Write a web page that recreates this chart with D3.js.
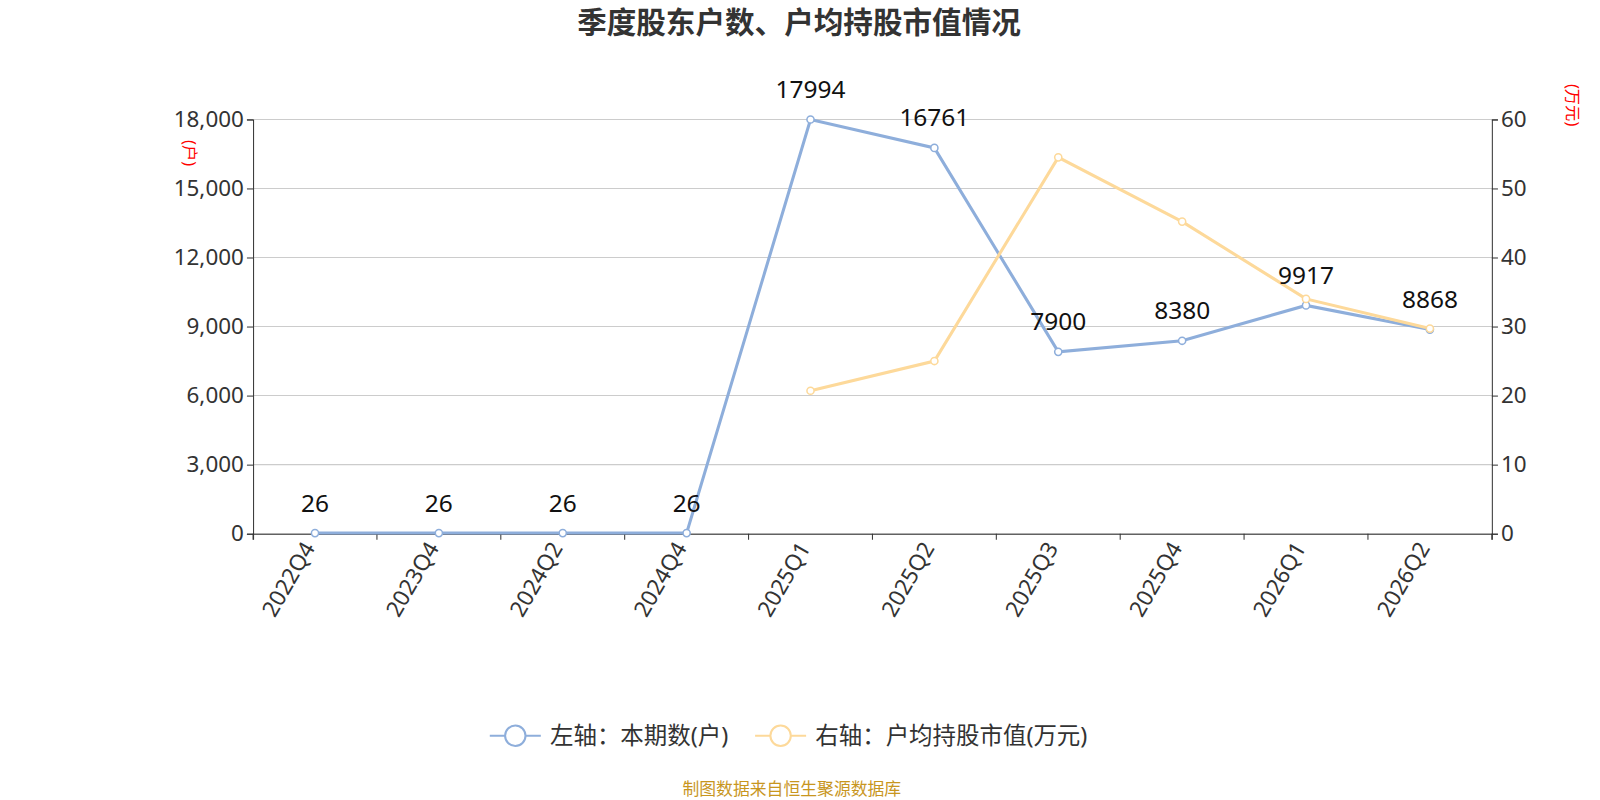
<!DOCTYPE html>
<html><head><meta charset="utf-8">
<script src="https://cdn.jsdelivr.net/npm/d3@7"></script>
<style>body{margin:0;background:#fff;font-family:"Noto Sans","Noto Sans CJK SC",sans-serif}</style>
</head><body><div id="chart"></div>
<script>
const quarters = ["2022Q4","2023Q4","2024Q2","2024Q4","2025Q1","2025Q2","2025Q3","2025Q4","2026Q1","2026Q2"];
const holders = [26, 26, 26, 26, 17994, 16761, 7900, 8380, 9917, 8868];
const avgValue = [null, null, null, null, 20.7, 25.0, 54.5, 45.2, 34.0, 29.7];
const leftTicks = [0, 3000, 6000, 9000, 12000, 15000, 18000];
const rightTicks = [0, 10, 20, 30, 40, 50, 60];

const width = 1600, height = 800;
const blue = "#8eaedb", yellow = "#fdd99a";
const root = d3.select("#chart").append("svg").attr("width", width).attr("height", height);
const svg = root.append("g").attr("transform", "scale(1.0204)");

const x = d3.scaleBand().domain(quarters).range([248, 1462]);
const yL = d3.scaleLinear().domain([0, 18000]).range([523, 117]);
const yR = d3.scaleLinear().domain([0, 60]).range([523, 117]);
const cx = d => x(d) + x.bandwidth() / 2;

// grid
svg.append("g").selectAll("line").data(leftTicks).join("line")
    .attr("x1", 248).attr("x2", 1462).attr("y1", d => yL(d)).attr("y2", d => yL(d))
    .attr("stroke", "#ccc");

const gL = svg.append("g").attr("transform", "translate(248,0)")
    .call(d3.axisLeft(yL).tickValues(leftTicks).tickFormat(d3.format(",")).tickSize(6));
const gR = svg.append("g").attr("transform", "translate(1462,0)")
    .call(d3.axisRight(yR).tickValues(rightTicks).tickSize(6));
const gX = svg.append("g").attr("transform", "translate(0,523)")
    .call(d3.axisBottom(x).tickSize(6).tickSizeOuter(6));
gX.selectAll(".tick line").attr("transform", `translate(${-x.bandwidth()/2},0)`);
gX.append("line").attr("x1", 1462).attr("x2", 1462).attr("y1", 0).attr("y2", 6).attr("stroke", "#333");
for (const g of [gL, gR, gX]) {
    g.selectAll("path,line").attr("stroke", "#333");
    g.selectAll("text").attr("fill", "#333").style("font-size", "22px").style("font-family", "Noto Sans, sans-serif");
}
gX.selectAll("text").attr("transform", "translate(-6,10) rotate(-60)").style("text-anchor", "end").attr("dy", "0.35em").attr("y", 0).attr("x", 0);

// unit labels
svg.append("text").attr("transform", "translate(180,150) rotate(90)").attr("text-anchor", "middle")
    .attr("fill", "red").style("font-size", "16px").text("(户)");
svg.append("text").attr("transform", "translate(1536,103) rotate(90)").attr("text-anchor", "middle")
    .attr("fill", "red").style("font-size", "16px").text("(万元)");

// lines
const lineL = d3.line().x((d, i) => cx(quarters[i])).y(d => yL(d));
svg.append("path").datum(holders).attr("d", lineL).attr("fill", "none").attr("stroke", blue).attr("stroke-width", 3);
const yData = avgValue.map((v, i) => ({q: quarters[i], v})).filter(d => d.v != null);
svg.append("path").datum(yData).attr("d", d3.line().x(d => cx(d.q)).y(d => yR(d.v)))
    .attr("fill", "none").attr("stroke", yellow).attr("stroke-width", 3);

svg.append("g").selectAll("circle").data(holders).join("circle")
    .attr("cx", (d, i) => cx(quarters[i])).attr("cy", d => yL(d)).attr("r", 3.5)
    .attr("fill", "#fff").attr("stroke", blue).attr("stroke-width", 1.5);
svg.append("g").selectAll("circle").data(yData).join("circle")
    .attr("cx", d => cx(d.q)).attr("cy", d => yR(d.v)).attr("r", 3.5)
    .attr("fill", "#fff").attr("stroke", yellow).attr("stroke-width", 1.5);

svg.append("g").selectAll("text").data(holders).join("text")
    .attr("x", (d, i) => cx(quarters[i])).attr("y", d => yL(d) - 21)
    .attr("text-anchor", "middle").style("font-size", "24px").attr("fill", "#111").text(d => d);

// title
svg.append("text").attr("x", 783).attr("y", 32).attr("text-anchor", "middle")
    .style("font-size", "29px").style("font-weight", "bold").attr("fill", "#333").text("季度股东户数、户均持股市值情况");

// legend
const legend = [["左轴：本期数(户)", blue, 480], ["右轴：户均持股市值(万元)", yellow, 740]];
const lg = svg.append("g").selectAll("g").data(legend).join("g").attr("transform", d => `translate(${d[2]},721)`);
lg.append("line").attr("x1", 0).attr("x2", 50).attr("stroke", d => d[1]).attr("stroke-width", 2);
lg.append("circle").attr("cx", 25).attr("r", 10).attr("fill", "#fff").attr("stroke", d => d[1]).attr("stroke-width", 2);
lg.append("text").attr("x", 59).attr("dy", "0.35em").style("font-size", "23px").attr("fill", "#333").text(d => d[0]);

svg.append("text").attr("x", 776).attr("y", 779).attr("text-anchor", "middle")
    .style("font-size", "16.5px").attr("fill", "#c8961e").text("制图数据来自恒生聚源数据库");
</script></body></html>
